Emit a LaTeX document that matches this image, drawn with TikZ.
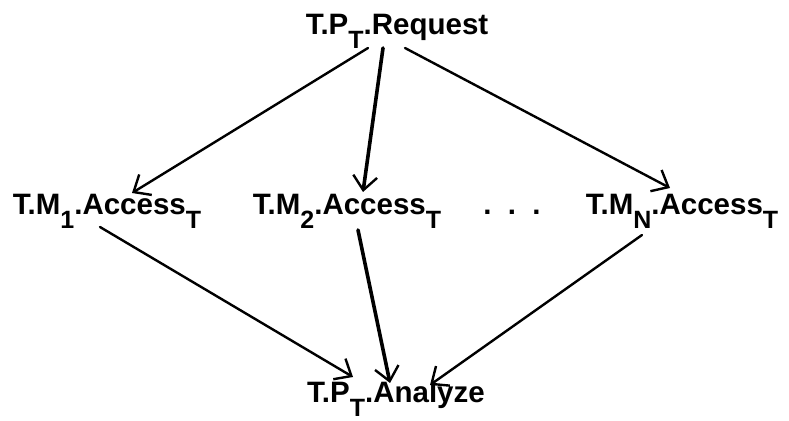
\documentclass[tikz,border=0pt]{standalone}
\usepackage{fontspec}
\setmainfont{Liberation Sans}
\usepackage{tikz}
\usetikzlibrary{arrows.meta, positioning}
\newcommand{\lowsub}[1]{\raisebox{-14pt}{\fontsize{25}{25}\selectfont\bfseries #1}}

\begin{document}
\begin{tikzpicture}[
    x=1pt, y=1pt,
    task/.style={anchor=base, inner sep=0pt, font=\fontsize{29.5}{32}\selectfont\bfseries},
    flow/.style={-{Straight Barb[length=14pt, width=24pt, line width=2.4pt]}, line width=2.4pt, line cap=round},
    heavy/.style={flow, line width=3.6pt}
]
    \useasboundingbox (0,0) rectangle (789,420);
    \node[task] (request) at (397,385) {T.P\lowsub{T}.Request};
    \node[task] (mone) at (107,205) {T.M\lowsub{1}.Access\lowsub{T}};
    \node[task] (mtwo) at (347,205) {T.M\lowsub{2}.Access\lowsub{T}};
    \node[task] (dots) at (512,205) {.\ \ .\ \ .};
    \node[task] (mn) at (682,205) {T.M\lowsub{N}.Access\lowsub{T}};
    \node[task] (analyze) at (396,18) {T.P\lowsub{T}.Analyze};

    % Fan out
    \draw[flow] ([shift={(-29,-13)}]request.base) -- ([shift={(25,22)}]mone.base);
    \draw[heavy] ([shift={(-14,-13)}]request.base) -- ([shift={(16,23)}]mtwo.base);
    \draw[flow] ([shift={(8,-13)}]request.base) -- ([shift={(-12,27)}]mn.base);
    % Fan in
    \draw[flow] ([shift={(-7,-12)}]mone.base) -- ([shift={(-43,25)}]analyze.base);
    \draw[heavy] ([shift={(11,-15)}]mtwo.base) -- ([shift={(-6,19)}]analyze.base);
    \draw[flow] ([shift={(-40,-20)}]mn.base) -- ([shift={(34,17)}]analyze.base);
\end{tikzpicture}
\end{document}
